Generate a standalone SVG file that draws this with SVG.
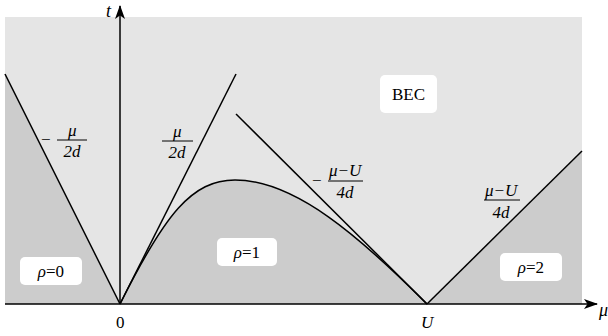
<svg xmlns="http://www.w3.org/2000/svg" width="608" height="336" viewBox="0 0 608 336" font-family="Liberation Serif">
<defs>
<marker id="arr" viewBox="0 0 14 10" refX="13" refY="5" markerWidth="14" markerHeight="10" markerUnits="userSpaceOnUse" orient="auto">
<path d="M0,0 L14,5 L0,10 L3.5,5 Z" fill="#000"/>
</marker>
</defs>
<rect width="608" height="336" fill="#fff"/>
<g id="regions">
<rect x="5" y="17" width="577" height="287" fill="#e5e5e5"/>
<polygon points="5,74 120,304 5,304" fill="#cccccc"/>
<polygon points="427,304 582,151 582,304" fill="#cccccc"/>
<path d="M120,304 C165,214 192,180 235,180 C295,180 360,237 427,304 Z" fill="#cccccc"/>
</g>
<g id="connectors" fill="none" stroke="#000" stroke-width="1.5">
<line x1="5" y1="304" x2="597" y2="304" marker-end="url(#arr)"/>
<line x1="120" y1="304" x2="120" y2="6" marker-end="url(#arr)"/>
<line x1="5" y1="74" x2="120" y2="304"/>
<line x1="120" y1="304" x2="236" y2="74"/>
<line x1="236" y1="114" x2="427" y2="304"/>
<line x1="427" y1="304" x2="582" y2="151"/>
<path d="M120,304 C165,214 192,180 235,180 C295,180 360,237 427,304"/>
</g>
<g id="axis-labels" font-family="Liberation Serif" font-size="17">
<text font-family="Liberation Serif" font-style="italic" font-size="18" x="106" y="17">t</text>
<text font-family="Liberation Serif" font-style="italic" font-size="18" x="599" y="316">μ</text>
<text font-family="Liberation Serif" x="116" y="328">0</text>
<text font-family="Liberation Serif" font-style="italic" x="421" y="328">U</text>
</g>
<g id="label-left" font-family="Liberation Serif" font-size="17">
<text font-family="Liberation Serif" x="41" y="145">−</text>
<text font-family="Liberation Serif" font-style="italic" x="68" y="136">μ</text>
<line x1="57" y1="140" x2="87" y2="140" stroke="#000" stroke-width="1"/>
<text font-family="Liberation Serif" font-style="italic" x="63.5" y="157">2d</text>
</g>
<g id="label-mid" font-family="Liberation Serif" font-size="17">
<text font-family="Liberation Serif" font-style="italic" x="173" y="137">μ</text>
<line x1="162" y1="141" x2="193" y2="141" stroke="#000" stroke-width="1"/>
<text font-family="Liberation Serif" font-style="italic" x="168.5" y="158">2d</text>
</g>
<g id="label-tangent" font-family="Liberation Serif" font-size="17">
<text font-family="Liberation Serif" x="312" y="186">−</text>
<text font-family="Liberation Serif" font-style="italic" x="329" y="176">μ−U</text>
<line x1="328" y1="181" x2="363" y2="181" stroke="#000" stroke-width="1"/>
<text font-family="Liberation Serif" font-style="italic" x="336.5" y="198">4d</text>
</g>
<g id="label-right" font-family="Liberation Serif" font-size="17">
<text font-family="Liberation Serif" font-style="italic" x="485" y="196">μ−U</text>
<line x1="484" y1="200" x2="520" y2="200" stroke="#000" stroke-width="1"/>
<text font-family="Liberation Serif" font-style="italic" x="492.5" y="218">4d</text>
</g>
<g id="node-bec" font-family="Liberation Serif" font-size="17">
<rect x="380" y="75" width="57" height="38" rx="5" fill="#fff"/>
<text font-family="Liberation Serif" x="408.5" y="100" text-anchor="middle">BEC</text>
</g>
<g id="node-rho0" font-family="Liberation Serif" font-size="17">
<rect x="20" y="257" width="62" height="28" rx="5" fill="#fff"/>
<text font-family="Liberation Serif" x="51" y="277" text-anchor="middle"><tspan font-style="italic">ρ</tspan>=0</text>
</g>
<g id="node-rho1" font-family="Liberation Serif" font-size="17">
<rect x="217" y="238" width="60" height="28" rx="5" fill="#fff"/>
<text font-family="Liberation Serif" x="247" y="258" text-anchor="middle"><tspan font-style="italic">ρ</tspan>=1</text>
</g>
<g id="node-rho2" font-family="Liberation Serif" font-size="17">
<rect x="500" y="253" width="62" height="28" rx="5" fill="#fff"/>
<text font-family="Liberation Serif" x="531" y="273" text-anchor="middle"><tspan font-style="italic">ρ</tspan>=2</text>
</g>
</svg>
